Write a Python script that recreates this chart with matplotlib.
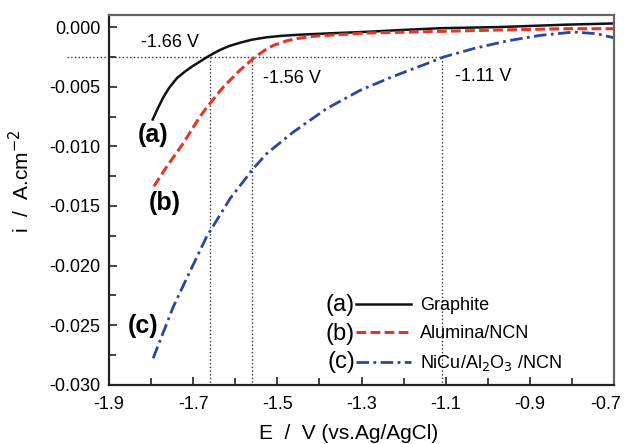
import matplotlib
matplotlib.use("Agg")
import matplotlib.pyplot as plt
from matplotlib.ticker import FixedLocator, FormatStrFormatter, MultipleLocator
from matplotlib.transforms import ScaledTranslation

plt.rcParams['font.family'] = ['Liberation Sans', 'DejaVu Sans']

# curve (a) Graphite
e_graphite = [-1.796, -1.785, -1.771, -1.757, -1.739, -1.720, -1.700, -1.683, -1.666,
              -1.650, -1.636, -1.615, -1.589, -1.560, -1.525, -1.490, -1.446, -1.370,
              -1.287, -1.200, -1.113, -0.971, -0.812, -0.700]
i_graphite = [-0.00775, -0.00690, -0.00590, -0.00510, -0.00430, -0.00375, -0.00325,
              -0.00288, -0.00250, -0.00218, -0.00192, -0.00160, -0.00132, -0.00106,
              -0.00086, -0.00074, -0.00064, -0.00052, -0.00040, -0.00024, -0.00010,
              0.00000, 0.00020, 0.00030]

# curve (b) Alumina/NCN
e_alumina = [-1.793, -1.763, -1.724, -1.684, -1.668, -1.628, -1.589, -1.555, -1.530,
             -1.510, -1.480, -1.454, -1.420, -1.383, -1.287, -1.130, -0.971, -0.812, -0.700]
i_alumina = [-0.01334, -0.01172, -0.00977, -0.00753, -0.00675, -0.00502, -0.00363,
             -0.00257, -0.00195, -0.00155, -0.00118, -0.00097, -0.00080, -0.00070,
             -0.00050, -0.00038, -0.00025, -0.00014, -0.00014]

# curve (c) NiCu/Al2O3/NCN
e_nicu = [-1.795, -1.747, -1.707, -1.668, -1.612, -1.557, -1.525, -1.462, -1.383,
          -1.303, -1.224, -1.145, -1.105, -1.034, -0.955, -0.876, -0.796, -0.741, -0.702]
i_nicu = [-0.02777, -0.02344, -0.02045, -0.01758, -0.01437, -0.01186, -0.01060,
          -0.00880, -0.00684, -0.00530, -0.00413, -0.00307, -0.00251, -0.00181,
          -0.00117, -0.00070, -0.00042, -0.00056, -0.00089]

onset_potentials = [-1.66, -1.56, -1.11]
onset_labels = ['-1.66 V', '-1.56 V', '-1.11 V']
onset_current = -0.0025

x_major = [-1.9, -1.7, -1.5, -1.3, -1.1, -0.9, -0.7]
x_minor = [-1.8, -1.6, -1.4, -1.2, -1.0, -0.8]

fig = plt.figure(figsize=(6.26, 4.44), dpi=100)
ax = fig.add_axes([0.174, 0.133, 0.807, 0.833])

# dotted guide lines
ax.plot([-2.0, -1.11], [onset_current, onset_current], ls=':', color='#333333', lw=1.0, clip_on=False)
for e in onset_potentials:
    ax.plot([e, e], [onset_current, -0.030], ls=':', color='#333333', lw=1.0)

ax.plot(e_graphite, i_graphite, color='#111111', lw=1.8, label='Graphite')
ax.plot(e_alumina, i_alumina, color='#e5362a', lw=2.2, ls=(0, (3.2, 1.4)), label='Alumina/NCN')
ax.plot(e_nicu, i_nicu, color='#2b44a6', lw=2.0, ls=(0, (4.5, 1.6, 1.0, 1.6)),
        label='NiCu/Al$_2$O$_3$ /NCN')

ax.set_xlim(-1.9, -0.7)
ax.set_ylim(-0.030, 0.001)
ax.xaxis.set_major_locator(FixedLocator(x_major))
ax.xaxis.set_minor_locator(FixedLocator(x_minor))
ax.yaxis.set_major_locator(MultipleLocator(0.005))
ax.yaxis.set_minor_locator(MultipleLocator(0.0025))
ax.xaxis.set_major_formatter(FormatStrFormatter('%.1f'))
ax.yaxis.set_major_formatter(FormatStrFormatter('%.3f'))
ax.tick_params(which='both', direction='in', top=False, right=False, width=1.2, color='#222222')
ax.tick_params(which='major', length=6, labelsize=13)
ax.tick_params(which='minor', length=5)
ax.tick_params(axis='x', pad=8)
ax.tick_params(axis='y', pad=6)
for side, sp in ax.spines.items():
    sp.set_linewidth(1.6)
    sp.set_color('#222222' if side in ('left', 'bottom') else '#666666')

ax.set_xlabel('E  /  V (vs.Ag/AgCl)', fontsize=15)
ax.set_ylabel('i  /  A.cm$^{-2}$', fontsize=15)
ax.xaxis.set_label_coords(0.474, -0.105)
ax.yaxis.set_label_coords(-0.150, 0.55)

# onset annotations
ax.text(-1.824, -0.00128, onset_labels[0], fontsize=13, va='center')
ax.text(-1.535, -0.00432, onset_labels[1], fontsize=13, va='center')
ax.text(-1.078, -0.00418, onset_labels[2], fontsize=13, va='center')

# curve tags
ax.text(-1.832, -0.00907, '(a)', fontsize=18, fontweight='bold', va='center')
ax.text(-1.806, -0.01479, '(b)', fontsize=18, fontweight='bold', va='center')
ax.text(-1.856, -0.02506, '(c)', fontsize=18, fontweight='bold', va='center')

leg = ax.legend(loc='upper left', bbox_to_anchor=(0.49, 0.237), frameon=False, fontsize=13,
                handlelength=3.0, handletextpad=0.5, labelspacing=0.6, borderpad=0,
                borderaxespad=0)
for tag, yy in zip(['(a)', '(b)', '(c)'], [0.215, 0.139, 0.061]):
    ax.text(0.487, yy, tag, transform=ax.transAxes, fontsize=17, ha='right', va='center')

# pull the last x tick label in a little so it stays inside the figure
fig.canvas.draw()
last = ax.xaxis.get_major_ticks()[-1].label1
last.set_transform(last.get_transform() + ScaledTranslation(-6 / 72, 0, fig.dpi_scale_trans))

fig.savefig('out.png', dpi=100)
